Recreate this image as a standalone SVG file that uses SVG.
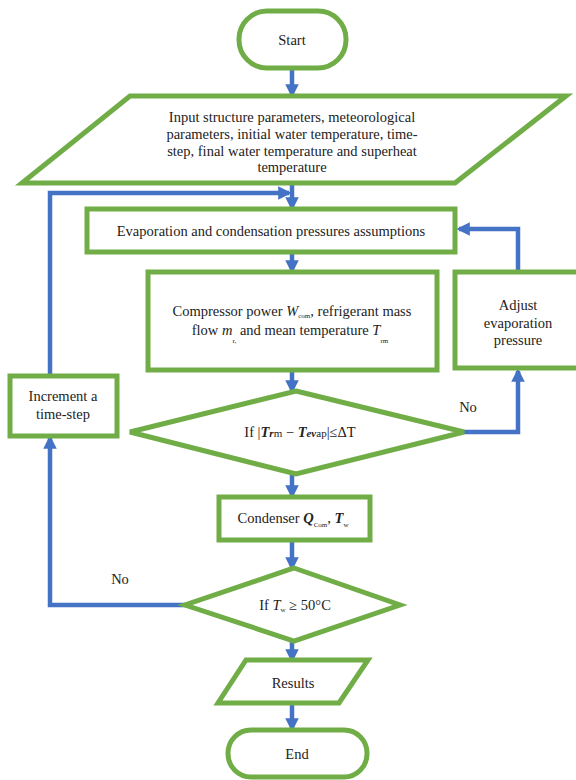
<svg xmlns="http://www.w3.org/2000/svg" width="576" height="780" viewBox="0 0 576 780">
<style>
.n{fill:#fff;stroke:#70AD47;stroke-width:5}
.c{fill:none;stroke:#4472C4;stroke-width:4.5}
text{font-family:"Liberation Serif","Liberation Sans",sans-serif;font-size:14.5px;fill:#222;text-anchor:middle}
.i{font-style:italic;font-weight:bold}
.s{font-size:7px}
</style>
<defs>
<marker id="a" viewBox="0 0 10 10" refX="8" refY="5" markerWidth="3" markerHeight="3" orient="auto" markerUnits="strokeWidth">
<path d="M0,0 L10,5 L0,10 z" fill="#4472C4"/>
</marker>
</defs>
<rect width="576" height="780" fill="#fff"/>
<g id="connectors">
<line class="c" x1="292" y1="70" x2="292" y2="95" marker-end="url(#a)"/>
<line class="c" x1="292" y1="183" x2="292" y2="208" marker-end="url(#a)"/>
<line class="c" x1="292" y1="252" x2="292" y2="271" marker-end="url(#a)"/>
<line class="c" x1="292" y1="370" x2="292" y2="391" marker-end="url(#a)"/>
<line class="c" x1="292" y1="474" x2="292" y2="496" marker-end="url(#a)"/>
<line class="c" x1="292" y1="540" x2="292" y2="568" marker-end="url(#a)"/>
<line class="c" x1="292" y1="640" x2="292" y2="660" marker-end="url(#a)"/>
<line class="c" x1="292" y1="703" x2="292" y2="729" marker-end="url(#a)"/>
<polyline class="c" points="464,432 518,432 518,371" marker-end="url(#a)"/>
<polyline class="c" points="518,272 518,229 459,229" marker-end="url(#a)"/>
<polyline class="c" points="185,605 50,605 50,438" marker-end="url(#a)"/>
<polyline class="c" points="50,376 50,193 289,193" marker-end="url(#a)"/>
</g>
<g id="start">
<rect class="n" x="239" y="11" width="107" height="57" rx="28"/>
<text x="292" y="45">Start</text>
</g>
<g id="input">
<polygon class="n" points="130,96 566,96 455,183 22,183"/>
<text x="292" y="122">Input structure parameters, meteorological</text>
<text x="292" y="139">parameters, initial water temperature, time-</text>
<text x="292" y="156">step, final water temperature and superheat</text>
<text x="292" y="172">temperature</text>
</g>
<g id="assume">
<rect class="n" x="87" y="209" width="368" height="43"/>
<text x="271" y="236">Evaporation and condensation pressures assumptions</text>
</g>
<g id="compressor">
<rect class="n" x="148" y="272" width="289" height="98"/>
<text x="292" y="316">Compressor power <tspan font-style="italic">W</tspan><tspan class="s" dy="2">com</tspan><tspan dy="-2">, refrigerant mass</tspan></text>
<text x="290" y="335">flow <tspan font-style="italic">m</tspan><tspan class="s" dy="8">r,</tspan><tspan dy="-8">  and mean temperature </tspan><tspan font-style="italic">T</tspan><tspan class="s" dy="8">rm</tspan></text>
</g>
<g id="adjust">
<rect class="n" x="455" y="272" width="130" height="96"/>
<text x="518" y="310">Adjust</text>
<text x="518" y="328">evaporation</text>
<text x="518" y="345">pressure</text>
</g>
<g id="check1">
<polygon class="n" points="296,391 464,432 296,474 130,432"/>
<text x="300" y="437">If |<tspan class="i">T</tspan><tspan class="i" font-size="11">r</tspan><tspan font-size="11">m</tspan> − <tspan class="i">T</tspan><tspan class="i" font-size="11">ev</tspan><tspan font-size="11">ap</tspan>|≤ΔT</text>
<text x="468" y="412">No</text>
</g>
<g id="condenser">
<rect class="n" x="219" y="497" width="151" height="43"/>
<text x="293" y="523">Condenser <tspan class="i">Q</tspan><tspan class="s" dy="4">Com</tspan><tspan dy="-4">, </tspan><tspan class="i">T</tspan><tspan class="s" dy="4">w</tspan></text>
</g>
<g id="increment">
<rect class="n" x="10" y="376" width="107" height="60"/>
<text x="63" y="401">Increment a</text>
<text x="63" y="419">time-step</text>
</g>
<g id="check2">
<polygon class="n" points="294,568 400,605 294,641 185,605"/>
<text x="295" y="610">If <tspan font-style="italic">T</tspan><tspan class="s" dy="2">w</tspan><tspan dy="-2"> ≥ 50°C</tspan></text>
<text x="120" y="584">No</text>
</g>
<g id="results">
<polygon class="n" points="246,660 368,660 339,703 218,703"/>
<text x="293" y="688">Results</text>
</g>
<g id="end">
<rect class="n" x="228" y="730" width="139" height="47" rx="23"/>
<text x="297" y="759">End</text>
</g>
</svg>
